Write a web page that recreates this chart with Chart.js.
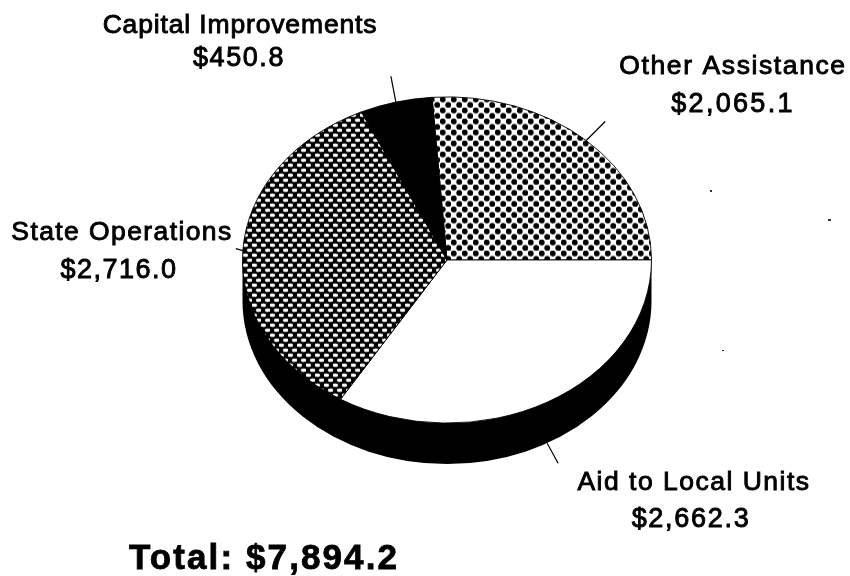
<!DOCTYPE html>
<html>
<head>
<meta charset="utf-8">
<style>html,body{margin:0;padding:0;background:#fff}#w{width:850px;height:576px}</style>
<script src="https://cdn.jsdelivr.net/npm/chart.js@4"></script>
</head>
<body>
<div id="w"><canvas id="c" width="850" height="576"></canvas></div>
<script>
const categories = ["Other Assistance", "Aid to Local Units", "State Operations", "Capital Improvements"];
const values = [2065.1, 2662.3, 2716.0, 450.8];
const totalLabel = "Total: $7,894.2";
const valueLabels = ["$2,065.1", "$2,662.3", "$2,716.0", "$450.8"];

const squash = 163.5 / 205;
const depth = 41;
const labelPos = [
  [733, 74, 733, 112],
  [694, 490, 691, 527],
  [122, 240, 119, 278],
  [240, 33, 239, 66]
];
const nameSpacing = [1.6, 1.5, 1.4, 0.85];
const valueSpacing = [2.3, 1.7, 1.5, 1.6];
const leaderOffsets = [[19, -19], [11, 20], [-7, -2], [-5, -26]];
const leaderDrop = [0, depth, 0, 0];

function tile(w, h, bg, fg, dots, rx, ry) {
  const t = document.createElement('canvas');
  t.width = w; t.height = h;
  const x = t.getContext('2d');
  x.fillStyle = bg; x.fillRect(0, 0, w, h);
  x.fillStyle = fg;
  dots.forEach(d => { x.beginPath(); x.ellipse(d[0], d[1], rx, ry, 0, 0, Math.PI * 2); x.fill(); });
  const p = document.createElement('canvas').getContext('2d').createPattern(t, 'repeat');
  p.setTransform(new DOMMatrix().scale(1, 1 / squash));
  return p;
}
const dotPattern = tile(11, 11, '#fff', '#000', [[2.75, 2.75], [8.25, 8.25]], 2.95, 2.95);
const meshPattern = tile(9, 10, '#000', '#fff', [[2.25, 2.5], [6.75, 7.5]], 2.9, 1.75);
const colors = [dotPattern, '#ffffff', meshPattern, '#000000'];

const pseudo3d = {
  id: 'pseudo3d',
  beforeDatasetsDraw(chart) {
    const ctx = chart.ctx, a = chart.getDatasetMeta(0).data[0];
    const cx = a.x, cy = a.y, r = a.outerRadius;
    ctx.save();
    ctx.fillStyle = '#000';
    ctx.beginPath();
    ctx.ellipse(cx, cy + depth, r, r * squash, 0, 0, Math.PI);
    ctx.lineTo(cx - r, cy);
    ctx.lineTo(cx + r, cy);
    ctx.closePath();
    ctx.fill();
    ctx.restore();
    ctx.save();
    ctx.translate(0, cy);
    ctx.scale(1, squash);
    ctx.translate(0, -cy);
  },
  afterDatasetsDraw(chart) {
    const ctx = chart.ctx;
    ctx.restore();
    ctx.save();
    ctx.strokeStyle = '#000';
    ctx.lineWidth = 1.2;
    chart.getDatasetMeta(0).data.forEach((a, i) => {
      const mid = (a.startAngle + a.endAngle) / 2;
      const x = a.x + Math.cos(mid) * a.outerRadius;
      const y = a.y + Math.sin(mid) * a.outerRadius * squash + leaderDrop[i];
      ctx.beginPath();
      ctx.moveTo(x, y);
      ctx.lineTo(x + leaderOffsets[i][0], y + leaderOffsets[i][1]);
      ctx.stroke();
    });
    ctx.fillStyle = '#000';
    ctx.textAlign = 'center';
    ctx.textBaseline = 'alphabetic';
    ctx.lineWidth = 0.9;
    categories.forEach((c, i) => {
      const p = labelPos[i];
      ctx.font = '26.5px "Liberation Sans"';
      ctx.letterSpacing = nameSpacing[i] + 'px';
      ctx.fillText(c, p[0], p[1]); ctx.strokeText(c, p[0], p[1]);
      ctx.font = '27px "Liberation Sans"';
      ctx.letterSpacing = valueSpacing[i] + 'px';
      ctx.fillText(valueLabels[i], p[2], p[3]); ctx.strokeText(valueLabels[i], p[2], p[3]);
    });
    ctx.font = 'bold 35px "Liberation Sans"';
    ctx.letterSpacing = '2.1px';
    ctx.lineWidth = 0.8;
    ctx.fillText(totalLabel, 264, 569);
    ctx.strokeText(totalLabel, 264, 569);
    ctx.fillStyle = '#333';
    ctx.fillRect(710, 190, 2, 2);
    ctx.fillRect(828, 219, 3, 2);
    ctx.fillRect(722, 350, 2, 1);
    ctx.restore();
  }
};

new Chart(document.getElementById('c'), {
  type: 'pie',
  data: {
    labels: categories,
    datasets: [{
      data: values,
      backgroundColor: colors,
      borderColor: '#000',
      borderWidth: 1,
      clip: false
    }]
  },
  options: {
    responsive: false,
    animation: false,
    rotation: -4.2,
    layout: { padding: { left: 242, right: 198, top: 55, bottom: 111 } },
    plugins: { legend: { display: false }, tooltip: { enabled: false } }
  },
  plugins: [pseudo3d]
});
</script>
</body>
</html>
